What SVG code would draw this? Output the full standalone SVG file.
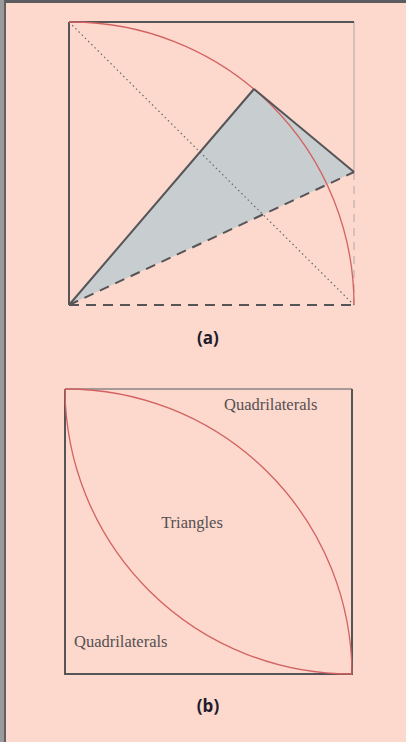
<svg xmlns="http://www.w3.org/2000/svg" width="406" height="742" viewBox="0 0 406 742">
<style>
.lbl{font-family:"Open Sans","Liberation Sans",sans-serif;font-weight:bold;font-size:17px;fill:#1c1c2c;text-anchor:middle}
.reg{font-family:"Liberation Serif","DejaVu Serif",serif;font-size:16.5px;fill:#555052}
.arc{fill:none;stroke:#d26262;stroke-width:1.3}
.edge{stroke:#555558;stroke-width:2;fill:none}
</style>
<rect x="0" y="0" width="406" height="742" fill="#fdd8cc"/>
<rect x="0" y="0" width="406" height="3" fill="#5c5c60"/>
<rect x="0" y="0" width="4" height="742" fill="#9a9a9a"/>
<rect x="4" y="0" width="2" height="742" fill="#606062"/>

<g id="figure-a">
  <polygon points="69,305 254,89 354,172" fill="#c8cdcf"/>
  <line x1="354" y1="22" x2="354" y2="172" stroke="#b4a8a6" stroke-width="1"/>
  <line x1="354" y1="172" x2="354" y2="305" stroke="#b4a8a6" stroke-width="1" stroke-dasharray="8,6"/>
  <line x1="69" y1="22" x2="354" y2="22" class="edge"/>
  <line x1="69" y1="22" x2="69" y2="305" class="edge"/>
  <line x1="69" y1="305" x2="354" y2="305" class="edge" stroke-dasharray="10,7"/>
  <line x1="69" y1="22" x2="354" y2="305" stroke="#6a6a6c" stroke-width="1.2" stroke-dasharray="1.5,3"/>
  <path d="M69,22 A283,283 0 0 1 354,305" class="arc"/>
  <line x1="69" y1="305" x2="254" y2="89" class="edge"/>
  <line x1="254" y1="89" x2="354" y2="172" class="edge"/>
  <line x1="69" y1="305" x2="354" y2="172" class="edge" stroke-dasharray="10,7"/>
  <text x="208" y="344" class="lbl">(a)</text>
</g>

<g id="figure-b">
  <line x1="65" y1="389" x2="352" y2="389" stroke="#8a8486" stroke-width="1.5"/>
  <path d="M65,389 V674 H352 V389" class="edge"/>
  <path d="M65,389 A286,286 0 0 1 352,674" class="arc"/>
  <path d="M65,389 A286,286 0 0 0 352,674" class="arc"/>
  <text x="224" y="410" class="reg">Quadrilaterals</text>
  <text x="192" y="528" class="reg" text-anchor="middle">Triangles</text>
  <text x="74" y="647" class="reg">Quadrilaterals</text>
  <text x="208" y="712" class="lbl">(b)</text>
</g>
</svg>
